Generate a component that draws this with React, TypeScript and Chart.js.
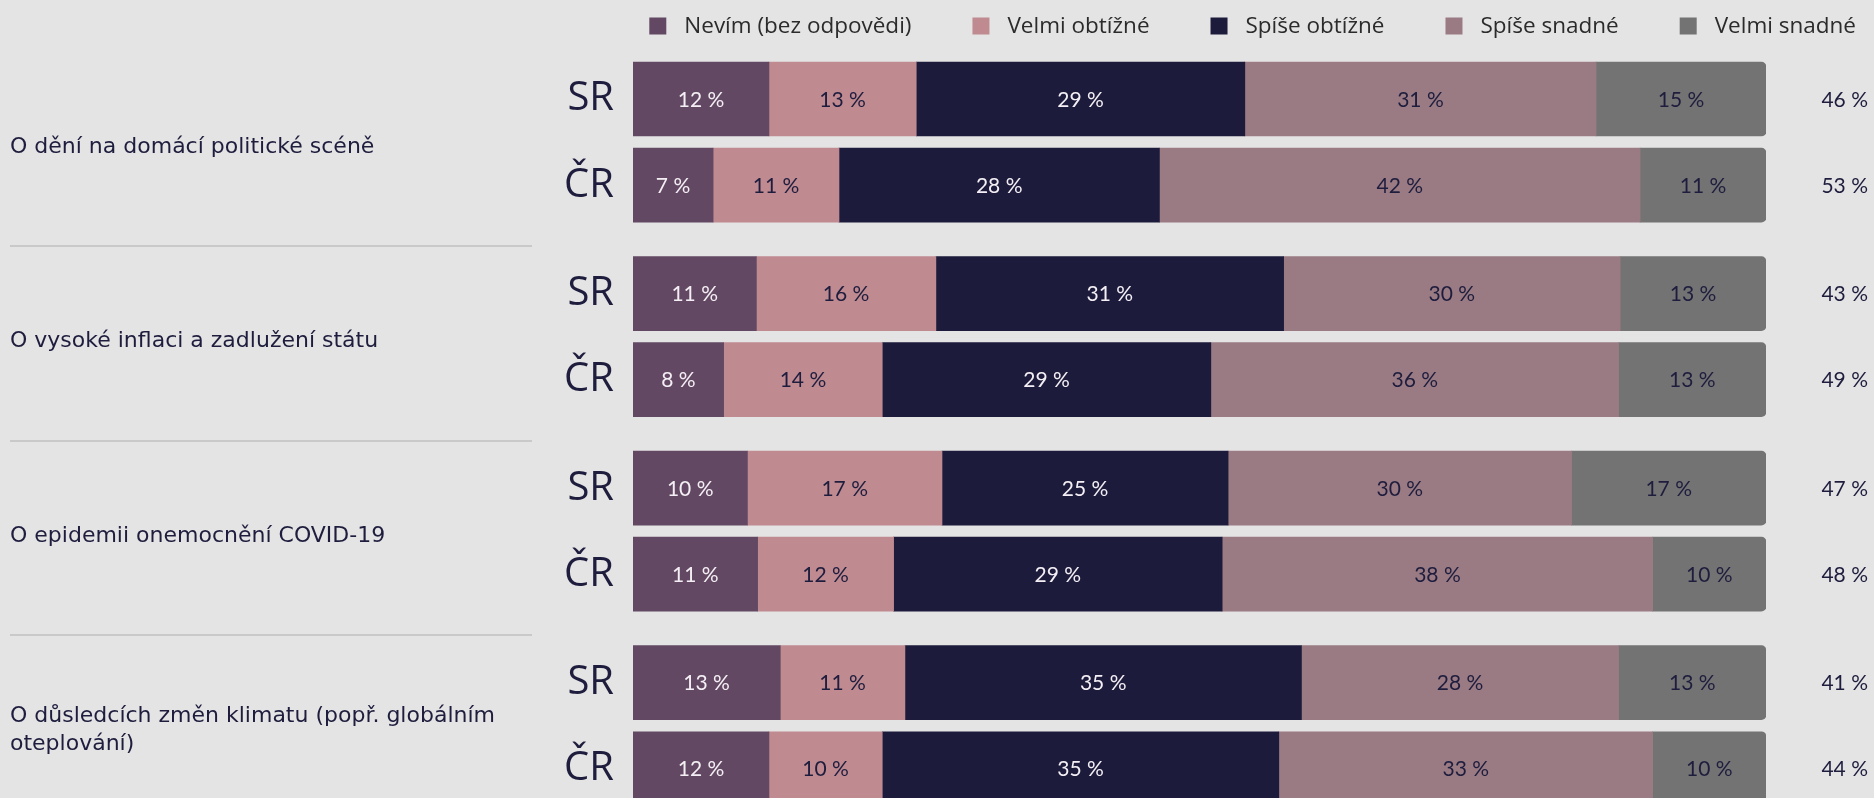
import React, { useEffect, useRef } from "react";
import { Chart, registerables } from "chart.js";

Chart.register(...registerables);

// ---------- data ----------
const groupLabels: string[][] = [
  ["O dění na domácí politické scéně"],
  ["O vysoké inflaci a zadlužení státu"],
  ["O epidemii onemocnění COVID-19"],
  ["O důsledcích změn klimatu (popř. globálním", "oteplování)"],
];
const countries = ["SR", "ČR"];
const seriesNames = [
  "Nevím (bez odpovědi)",
  "Velmi obtížné",
  "Spíše obtížné",
  "Spíše snadné",
  "Velmi snadné",
];
// rows: SR, ČR for each group, in order
const nevim = [12, 7, 11, 8, 10, 11, 13, 12];
const velmiObtizne = [13, 11, 16, 14, 17, 12, 11, 10];
const spiseObtizne = [29, 28, 31, 29, 25, 29, 35, 35];
const spiseSnadne = [31, 42, 30, 36, 30, 38, 28, 33];
const velmiSnadne = [15, 11, 13, 13, 17, 10, 13, 10];
const totals = [46, 53, 43, 49, 47, 48, 41, 44];

const series = [nevim, velmiObtizne, spiseObtizne, spiseSnadne, velmiSnadne];

// ---------- style ----------
const COLORS = ["#634863", "#bf8a90", "#1c1b3c", "#9a7b83", "#737373"];
const LABEL_COLORS = ["#f4eff4", "#1e1d3e", "#f4eff4", "#1e1d3e", "#1e1d3e"];
const NAVY = "#1e1d3e";
const BG = "#e4e4e4";
const FONT = "Lato, 'Open Sans', sans-serif";
const GROUP_FONT = "'DejaVu Sans', sans-serif";
const LEGEND_FONT = "'Open Sans', sans-serif";
const GROUP_STEP = 2.26;

const rowPos: number[] = [];
groupLabels.forEach((_, gi) => countries.forEach((_, ci) => rowPos.push(gi * GROUP_STEP + ci)));
const rowSums = rowPos.map((_, i) => series.reduce((s, arr) => s + arr[i], 0));

const bgPlugin = {
  id: "bg",
  beforeDraw(chart: any) {
    const { ctx, width, height } = chart;
    ctx.save();
    ctx.fillStyle = BG;
    ctx.fillRect(0, 0, width, height);
    ctx.restore();
  },
};

const decorPlugin = {
  id: "decor",
  afterDatasetsDraw(chart: any) {
    const { ctx } = chart;
    const yScale = chart.scales.y;
    ctx.save();
    // in-bar labels
    ctx.font = `21px ${FONT}`;
    ctx.textAlign = "center";
    ctx.textBaseline = "middle";
    series.forEach((arr, di) => {
      const meta = chart.getDatasetMeta(di);
      meta.data.forEach((el: any, i: number) => {
        const cx = (el.x + el.base) / 2;
        ctx.fillStyle = LABEL_COLORS[di];
        ctx.fillText(`${arr[i]} %`, cx, el.y + 1);
      });
    });
    // totals on the right
    ctx.textAlign = "right";
    ctx.fillStyle = NAVY;
    totals.forEach((t, i) => {
      ctx.fillText(`${t} %`, chart.width - 6, yScale.getPixelForValue(rowPos[i]) + 1);
    });
    // group labels
    ctx.textAlign = "left";
    ctx.font = `22px ${GROUP_FONT}`;
    groupLabels.forEach((lines, gi) => {
      const mid = yScale.getPixelForValue(gi * GROUP_STEP + 0.5) + 5;
      const lh = 28;
      const start = mid - ((lines.length - 1) * lh) / 2;
      lines.forEach((line, li) => ctx.fillText(line, 10, start + li * lh));
    });
    // separators
    ctx.strokeStyle = "#c9c9c9";
    ctx.lineWidth = 2;
    for (let gi = 0; gi < groupLabels.length - 1; gi++) {
      const y = Math.round(yScale.getPixelForValue(gi * GROUP_STEP + 1 + (GROUP_STEP - 1) / 2)) + 7;
      ctx.beginPath();
      ctx.moveTo(10, y);
      ctx.lineTo(532, y);
      ctx.stroke();
    }
    // legend
    ctx.font = `22.5px ${LEGEND_FONT}`;
    const box = 17;
    const boxGap = 18;
    const itemGap = 61;
    const widths = seriesNames.map((n) => ctx.measureText(n).width);
    const total = widths.reduce((s, w) => s + box + boxGap + w, 0) + itemGap * (seriesNames.length - 1);
    let x = chart.width - 18 - total;
    const ly = 26;
    seriesNames.forEach((n, i) => {
      ctx.fillStyle = COLORS[i];
      ctx.fillRect(x, ly - box / 2, box, box);
      ctx.fillStyle = "#2b2b2b";
      ctx.textAlign = "left";
      ctx.fillText(n, x + box + boxGap, ly + 1);
      x += box + boxGap + widths[i] + itemGap;
    });
    ctx.restore();
  },
};

export default function App() {
  const ref = useRef<HTMLCanvasElement | null>(null);
  useEffect(() => {
    if (!ref.current) return;
    const chart = new Chart(ref.current, {
      type: "bar",
      data: {
        datasets: series.map((arr, di) => ({
          label: seriesNames[di],
          data: arr.map((v, i) => ({ x: (v / rowSums[i]) * 100, y: rowPos[i] })),
          backgroundColor: COLORS[di],
          borderWidth: 0,
          stack: "all",
          barThickness: 74,
          borderRadius: di === series.length - 1 ? 5 : 0,
          borderSkipped: "start",
        })),
      },
      options: {
        indexAxis: "y",
        responsive: false,
        animation: false,
        devicePixelRatio: 1,
        layout: { padding: { top: 56, right: 108, bottom: 0, left: 0 } },
        plugins: { legend: { display: false }, tooltip: { enabled: false } },
        scales: {
          x: { type: "linear", min: 0, max: 100, stacked: true, display: false },
          y: {
            type: "linear",
            reverse: true,
            min: -0.5,
            max: 8.12,
            offset: false,
            grid: { display: false, drawTicks: false },
            border: { display: false },
            afterBuildTicks: (s: any) => {
              s.ticks = rowPos.map((v) => ({ value: v }));
            },
            afterFit: (s: any) => {
              s.width = 633;
              s.paddingTop = 0;
              s.paddingBottom = 0;
            },
            ticks: {
              autoSkip: false,
              padding: 19,
              color: NAVY,
              font: { family: "'Open Sans', sans-serif", size: 40, weight: 500 },
              callback: (_v: any, i: number) => countries[i % countries.length],
            },
          },
        },
      } as any,
      plugins: [bgPlugin, decorPlugin],
    });
    return () => chart.destroy();
  }, []);
  return (
    <div style={{ position: "fixed", left: 0, top: 0, width: 1874, height: 798, background: BG }}>
      <canvas ref={ref} width={1874} height={798} />
    </div>
  );
}
